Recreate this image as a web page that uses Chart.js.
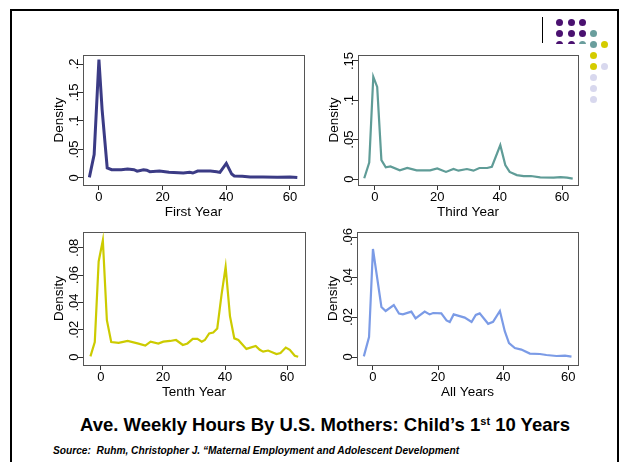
<!DOCTYPE html>
<html>
<head>
<meta charset="utf-8">
<script src="https://cdn.jsdelivr.net/npm/chart.js@4.4.1/dist/chart.umd.min.js"></script>
<style>
  body { margin: 0; background: #fff; }
  #slide { position: relative; width: 620px; height: 462px; overflow: hidden; background: #fff; font-family: 'Liberation Sans', Arial, sans-serif; }
  #frame { position: absolute; left: 10px; top: 9px; width: 605px; height: 480px; border: 2px solid #000; }
  canvas.panel { position: absolute; }
  #title { position: absolute; left: 0; width: 650px; top: 414px; text-align: center; font-weight: bold; font-size: 18.5px; color: #000; }
  #title sup { font-size: 11px; vertical-align: 6px; line-height: 0; }
  #source { position: absolute; left: 53px; top: 445px; font-weight: bold; font-style: italic; font-size: 10.2px; color: #000; white-space: nowrap; }
  .dot { position: absolute; width: 7px; height: 7px; border-radius: 50%; }
  #cover { position: absolute; left: 548px; top: 43.5px; width: 40px; height: 8px; background: #fff; }
  #vline { position: absolute; left: 542px; top: 17px; width: 1px; height: 26px; background: #000; }
</style>
</head>
<body>
<div id="slide">
  <div id="frame"></div>
  <div id="vline"></div>
  <div id="logo"></div>
  <div id="cover"></div>
  <canvas class="panel" id="chartFirst" width="265" height="169" style="left:45px;top:50px"></canvas>
  <canvas class="panel" id="chartThird" width="264" height="169" style="left:320px;top:50px"></canvas>
  <canvas class="panel" id="chartTenth" width="266" height="172" style="left:45px;top:227px"></canvas>
  <canvas class="panel" id="chartAll" width="265" height="172" style="left:319px;top:227px"></canvas>
  <div id="title">Ave. Weekly Hours By U.S. Mothers: Child’s 1<sup>st</sup> 10 Years</div>
  <div id="source">Source:&nbsp; Ruhm, Christopher J. “Maternal Employment and Adolescent Development</div>
</div>
<script>
const xTicks = [0, 20, 40, 60];

const firstHours = [-3, -1.5, 0, 1, 2.6, 4, 7, 9, 11, 12, 14, 15, 16, 19, 22, 26.5, 28.5, 29.5, 31, 35, 37, 38, 40, 41.7, 42.5, 45, 47.5, 51.5, 56, 60, 62.3];
const firstDensity = [0.001, 0.041, 0.208, 0.12, 0.0176, 0.0145, 0.0145, 0.0155, 0.0145, 0.012, 0.0145, 0.0135, 0.011, 0.012, 0.0098, 0.0086, 0.0098, 0.0086, 0.012, 0.012, 0.011, 0.0098, 0.0255, 0.0068, 0.0035, 0.003, 0.0018, 0.0018, 0.0012, 0.0016, 0.0006];
const firstYTicks = [0, 0.05, 0.1, 0.15, 0.2];

const thirdHours = [-3.4, -1.8, -0.5, 0.75, 2.1, 3.5, 5, 8, 10.4, 13.4, 17.7, 20, 22.8, 25.2, 26.8, 29.5, 31.6, 33.5, 36, 37.5, 40.2, 41.8, 43.2, 45.5, 47.7, 50, 53, 57.3, 59.5, 61.6, 63.4];
const thirdDensity = [0.001, 0.021, 0.130, 0.117, 0.024, 0.015, 0.016, 0.011, 0.014, 0.011, 0.011, 0.0135, 0.009, 0.0127, 0.0106, 0.0127, 0.0106, 0.014, 0.014, 0.0156, 0.043, 0.0177, 0.009, 0.005, 0.0038, 0.0038, 0.002, 0.0017, 0.0025, 0.0017, 0.0004];
const thirdYTicks = [0, 0.05, 0.1, 0.15];

const tenthHours = [-3.4, -2, -0.75, 0.6, 1.9, 3.3, 5.7, 8.6, 11.8, 14.3, 16, 18.5, 20.1, 22.3, 24.2, 26.4, 27.9, 29.6, 31.1, 32.5, 33.5, 34.9, 36.2, 37.5, 38.9, 40.2, 41.6, 43, 44.3, 46.9, 49.9, 51.2, 52.3, 53.9, 56.6, 57.9, 59.6, 60.9, 62.5, 63.6];
const tenthDensity = [0.0005, 0.011, 0.070, 0.0855, 0.027, 0.011, 0.0104, 0.0118, 0.010, 0.0084, 0.0113, 0.0099, 0.0113, 0.0118, 0.0125, 0.0089, 0.010, 0.0133, 0.0133, 0.0113, 0.0125, 0.0173, 0.018, 0.021, 0.046, 0.066, 0.030, 0.0137, 0.0125, 0.006, 0.0082, 0.0053, 0.004, 0.0048, 0.0022, 0.0029, 0.007, 0.0053, 0.001, 0.0002];
const tenthYTicks = [0, 0.02, 0.04, 0.06, 0.08];

const allHours = [-2.8, -1.2, 0, 2.6, 3.9, 6.4, 8, 9.2, 11.8, 13.1, 15.9, 17.4, 18.5, 21, 22.6, 23.6, 24.8, 28.2, 30.3, 31.6, 32.8, 35.4, 36.9, 39, 40.5, 41.8, 43.6, 45.6, 48.2, 51.3, 53.3, 56.4, 59, 61];
const allDensity = [0.0003, 0.010, 0.054, 0.025, 0.023, 0.026, 0.0217, 0.0213, 0.0227, 0.0193, 0.0227, 0.0213, 0.022, 0.0218, 0.0183, 0.0175, 0.0213, 0.0197, 0.0175, 0.021, 0.0218, 0.0166, 0.0176, 0.023, 0.0129, 0.007, 0.0045, 0.0037, 0.0017, 0.0015, 0.001, 0.0005, 0.0007, 0.0002];
const allYTicks = [0, 0.02, 0.04, 0.06];

Chart.defaults.font.family = "'Liberation Sans', Arial, sans-serif";
Chart.defaults.color = "#000";

// grey box round the plot region, like Stata's
const plotBox = {
    id: "plotBox",
    beforeDatasetsDraw(chart) {
        const a = chart.chartArea;
        const ctx = chart.ctx;
        ctx.save();
        ctx.strokeStyle = "#555";
        ctx.lineWidth = 1;
        ctx.strokeRect(Math.round(a.left) + 0.5, Math.round(a.top) + 0.5, Math.round(a.right - a.left), Math.round(a.bottom - a.top));
        ctx.restore();
    }
};

function stataLabel(v) {
    return v === 0 ? "0" : String(v).replace(/^0/, "");
}

function makePanel(id, hours, density, color, width, yTicks, yMin, yMax, xMin, xMax, xTitle) {
    return new Chart(document.getElementById(id).getContext("2d"), {
        type: "line",
        data: {
            datasets: [{
                data: hours.map((h, i) => ({ x: h, y: density[i] })),
                borderColor: color,
                borderWidth: width,
                pointRadius: 0,
                tension: 0,
                fill: false,
            }],
        },
        options: {
            responsive: false,
            animation: false,
            layout: { padding: { top: 5, right: 6, left: 0, bottom: 0 } },
            plugins: { legend: { display: false }, tooltip: { enabled: false } },
            scales: {
                x: {
                    type: "linear",
                    min: xMin,
                    max: xMax,
                    afterBuildTicks: s => { s.ticks = xTicks.map(v => ({ value: v })); },
                    afterFit: s => { s.height = 34; },
                    border: { display: false },
                    grid: { display: true, drawOnChartArea: false, tickLength: 5, tickColor: "#333" },
                    ticks: { font: { size: 13, lineHeight: 1 }, padding: 1, maxRotation: 0 },
                    title: { display: true, text: xTitle, font: { size: 13.5, lineHeight: 1 }, padding: { top: 0, bottom: 0 } },
                },
                y: {
                    min: yMin,
                    max: yMax,
                    afterBuildTicks: s => { s.ticks = yTicks.map(v => ({ value: v })); },
                    afterFit: s => { s.width = 38; },
                    border: { display: false },
                    grid: { display: true, drawOnChartArea: false, tickLength: 5, tickColor: "#333" },
                    ticks: { font: { size: 13, lineHeight: 1 }, padding: -5, minRotation: 90, maxRotation: 90, crossAlign: "center", callback: v => stataLabel(v) },
                    title: { display: true, text: "Density", font: { size: 13.5, lineHeight: 1 }, padding: { top: 8, bottom: 0 } },
                },
            },
        },
        plugins: [plotBox],
    });
}

makePanel("chartFirst", firstHours, firstDensity, "#3b3b85", 3, firstYTicks, -0.0124, 0.2159, -5, 64.4, "First Year");
makePanel("chartThird", thirdHours, thirdDensity, "#5f9c97", 2.2, thirdYTicks, -0.0076, 0.1576, -5.4, 65.1, "Third Year");
makePanel("chartTenth", tenthHours, tenthDensity, "#cccb00", 2.2, tenthYTicks, -0.0058, 0.0916, -5.8, 65.8, "Tenth Year");
makePanel("chartAll", allHours, allDensity, "#7b9be6", 2.2, allYTicks, -0.004, 0.0625, -4.9, 63, "All Years");

// corner logo dots
const logoDots = [
    [559, 22, "#4a1170"], [571, 22, "#4a1170"], [582, 22, "#4a1170"],
    [559, 33, "#4a1170"], [571, 33, "#4a1170"], [582, 33, "#4a1170"], [593, 33, "#6a9e9d"],
    [559, 44, "#4a1170"], [571, 44, "#4a1170"], [582, 44, "#6a9e9d"], [593, 44, "#6a9e9d"], [604, 44, "#d4cc00"],
    [593, 55, "#d4cc00"],
    [593, 66, "#d4cc00"], [604, 66, "#d8d8ee"],
    [593, 77, "#d8d8ee"], [593, 88, "#d8d8ee"], [593, 99, "#d8d8ee"]
];
const logo = document.getElementById("logo");
logoDots.forEach(d => {
    const el = document.createElement("div");
    el.className = "dot";
    el.style.left = (d[0] - 3.5) + "px";
    el.style.top = (d[1] - 3.5) + "px";
    el.style.background = d[2];
    logo.appendChild(el);
});
</script>
</body>
</html>
